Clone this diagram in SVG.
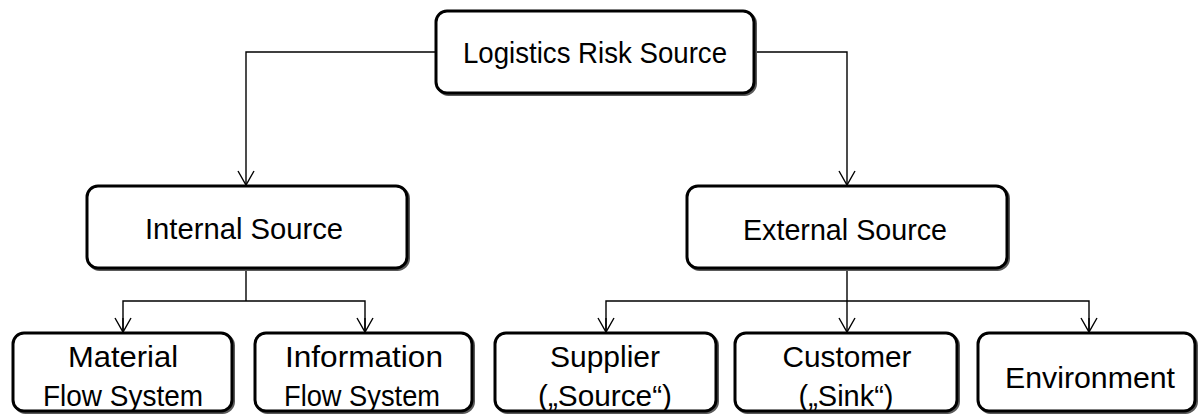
<svg xmlns="http://www.w3.org/2000/svg" width="1198" height="414" viewBox="0 0 1198 414">
  <defs>
    <style>
      .box { fill: #ffffff; stroke: #000000; stroke-width: 3; }
      .shadow { fill: none; stroke: #5a5a5a; stroke-width: 3; }
      .label { font-family: "Liberation Sans", Arial, sans-serif; font-size: 30px; fill: #000000; text-anchor: middle; }
      .wire { fill: none; stroke: #000000; stroke-width: 1.4; }
    </style>
    <marker id="arrow" markerUnits="userSpaceOnUse" markerWidth="20" markerHeight="20" viewBox="-16 -10 18 20" refX="0" refY="0" orient="auto">
      <path d="M-14,-8 L0,0 L-14,8" fill="none" stroke="#000000" stroke-width="1.4"/>
    </marker>
  </defs>
  <rect width="1198" height="414" fill="#ffffff"/>

  <!-- connectors -->
  <g id="connectors">
    <polyline class="wire" points="436,52 246,52 246,185" marker-end="url(#arrow)"/>
    <polyline class="wire" points="754,52 847,52 847,185" marker-end="url(#arrow)"/>
    <line class="wire" x1="246" y1="268" x2="246" y2="301"/>
    <polyline class="wire" points="123,333 123,301 365,301 365,333"/>
    <line class="wire" x1="123" y1="318" x2="123" y2="332" marker-end="url(#arrow)"/>
    <line class="wire" x1="365" y1="318" x2="365" y2="332" marker-end="url(#arrow)"/>
    <line class="wire" x1="847" y1="268" x2="847" y2="332" marker-end="url(#arrow)"/>
    <polyline class="wire" points="606,333 606,301 1089,301 1089,333"/>
    <line class="wire" x1="606" y1="318" x2="606" y2="332" marker-end="url(#arrow)"/>
    <line class="wire" x1="1089" y1="318" x2="1089" y2="332" marker-end="url(#arrow)"/>
  </g>

  <!-- top level -->
  <g id="logistics-risk-source">
    <rect class="shadow" x="437.5" y="12.5" width="318" height="82" rx="11"/>
    <rect class="box" x="436" y="11" width="318" height="82" rx="11"/>
    <text class="label" x="595" y="63" textLength="264" lengthAdjust="spacingAndGlyphs">Logistics Risk Source</text>
  </g>

  <!-- second level -->
  <g id="internal-source">
    <rect class="shadow" x="88.5" y="187.5" width="320" height="82" rx="11"/>
    <rect class="box" x="87" y="186" width="320" height="82" rx="11"/>
    <text class="label" x="244" y="239" textLength="198" lengthAdjust="spacingAndGlyphs">Internal Source</text>
  </g>
  <g id="external-source">
    <rect class="shadow" x="688.5" y="187.5" width="320" height="82" rx="11"/>
    <rect class="box" x="687" y="186" width="320" height="82" rx="11"/>
    <text class="label" x="845" y="240" textLength="204" lengthAdjust="spacingAndGlyphs">External Source</text>
  </g>

  <!-- third level -->
  <g id="material-flow-system">
    <rect class="shadow" x="14.5" y="334.5" width="219" height="78" rx="11"/>
    <rect class="box" x="13" y="333" width="219" height="78" rx="11"/>
    <text class="label" x="123" y="367" textLength="110" lengthAdjust="spacingAndGlyphs">Material</text>
    <text class="label" x="123" y="406" textLength="160" lengthAdjust="spacingAndGlyphs">Flow System</text>
  </g>
  <g id="information-flow-system">
    <rect class="shadow" x="256.5" y="334.5" width="217" height="78" rx="11"/>
    <rect class="box" x="255" y="333" width="217" height="78" rx="11"/>
    <text class="label" x="364" y="367" textLength="158" lengthAdjust="spacingAndGlyphs">Information</text>
    <text class="label" x="362" y="406" textLength="156" lengthAdjust="spacingAndGlyphs">Flow System</text>
  </g>
  <g id="supplier">
    <rect class="shadow" x="496.5" y="334.5" width="221" height="78" rx="11"/>
    <rect class="box" x="495" y="333" width="221" height="78" rx="11"/>
    <text class="label" x="605" y="367" textLength="110" lengthAdjust="spacingAndGlyphs">Supplier</text>
    <text class="label" x="605" y="406" textLength="134" lengthAdjust="spacingAndGlyphs">(„Source“)</text>
  </g>
  <g id="customer">
    <rect class="shadow" x="736.5" y="334.5" width="222" height="78" rx="11"/>
    <rect class="box" x="735" y="333" width="222" height="78" rx="11"/>
    <text class="label" x="847" y="367" textLength="129" lengthAdjust="spacingAndGlyphs">Customer</text>
    <text class="label" x="846" y="406" textLength="95" lengthAdjust="spacingAndGlyphs">(„Sink“)</text>
  </g>
  <g id="environment">
    <rect class="shadow" x="979.5" y="334.5" width="217" height="78" rx="11"/>
    <rect class="box" x="978" y="333" width="217" height="78" rx="11"/>
    <text class="label" x="1090" y="388" textLength="170" lengthAdjust="spacingAndGlyphs">Environment</text>
  </g>
</svg>
